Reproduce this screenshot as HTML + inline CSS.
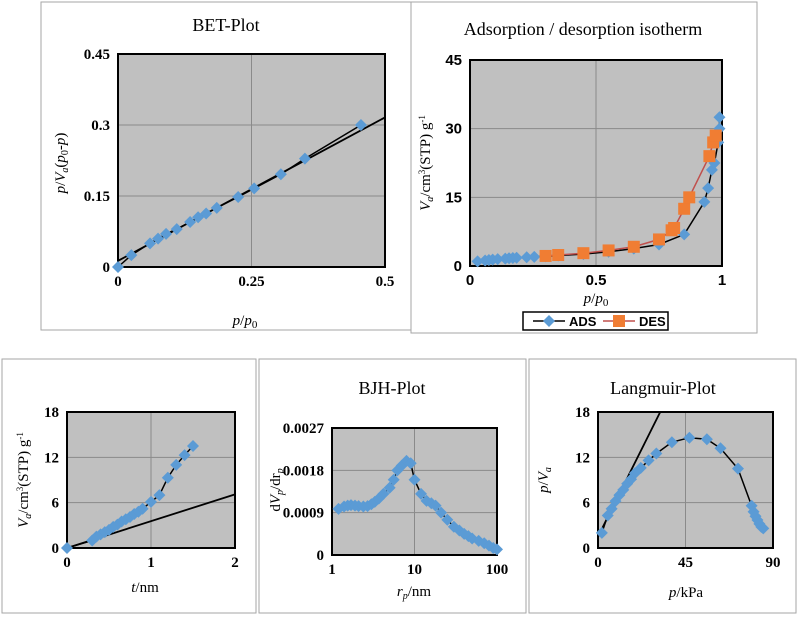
<!DOCTYPE html>
<html><head><meta charset="utf-8"><style>
body{margin:0;background:#fff;}
svg text{font-family:"Liberation Serif",serif;}
</style></head><body>
<svg id="s" width="799" height="615" xmlns="http://www.w3.org/2000/svg">
<rect x="41" y="2" width="370" height="328" fill="none" stroke="#a6a6a6"/>
<rect x="411" y="2" width="346" height="331" fill="none" stroke="#a6a6a6"/>
<rect x="2" y="359" width="254" height="254" fill="none" stroke="#a6a6a6"/>
<rect x="259" y="359" width="267" height="254" fill="none" stroke="#a6a6a6"/>
<rect x="529" y="359" width="267" height="254" fill="none" stroke="#a6a6a6"/>
</svg>
<script>
// BET
const betX=[0,0.025,0.06,0.075,0.09,0.11,0.135,0.15,0.165,0.185,0.225,0.255,0.305,0.35,0.455];
const betY=[0,0.025,0.05,0.06,0.07,0.08,0.095,0.105,0.113,0.125,0.148,0.166,0.196,0.229,0.3];
const betFitX=[0,0.5];const betFitY=[0.013,0.316];
const betXTicks=[0,0.25,0.5];const betYTicks=[0,0.15,0.3,0.45];
// Isotherm
const adsX=[0.03,0.06,0.075,0.09,0.11,0.14,0.155,0.17,0.185,0.225,0.255,0.3,0.35,0.45,0.55,0.65,0.75,0.85,0.93,0.945,0.96,0.97,0.985,0.99,0.99];
const adsY=[1.0,1.2,1.3,1.4,1.5,1.6,1.7,1.75,1.8,1.9,2.0,2.1,2.3,2.6,3.1,3.8,4.7,6.9,14,17,21,22.5,27,30,32.5];
const desX=[0.3,0.35,0.45,0.55,0.65,0.75,0.8,0.81,0.85,0.87,0.95,0.965,0.975];
const desY=[2.2,2.4,2.8,3.4,4.2,5.8,7.8,8.3,12.5,15,24,27,28.5];
const isoXTicks=[0,0.5,1];const isoYTicks=[0,15,30,45];
// t-plot
const tX=[0,0.3,0.35,0.4,0.45,0.5,0.55,0.6,0.65,0.7,0.75,0.8,0.85,0.9,1.0,1.1,1.2,1.3,1.4,1.5];
const tY=[0,1.0,1.5,1.8,2.1,2.4,2.8,3.1,3.5,3.8,4.1,4.5,4.8,5.2,6.1,7.0,9.3,11.0,12.3,13.5];
const tFitX=[0,2];const tFitY=[0,7.1];
const tXTicks=[0,1,2];const tYTicks=[0,6,12,18];
// BJH
const bjhX=[1.2,1.4,1.55,1.7,1.9,2.1,2.4,2.7,3,3.3,3.7,4.2,5,5.6,6.2,7,8,9,10,12,14,16,18,21,25,30,35,40,45,50,60,70,80,90,100];
const bjhY=[0.00098,0.00103,0.00105,0.00106,0.00105,0.00104,0.00103,0.00104,0.00108,0.00113,0.0012,0.0013,0.00143,0.0016,0.0018,0.0019,0.002,0.00195,0.0016,0.0013,0.00115,0.0011,0.00105,0.0009,0.00075,0.0006,0.00052,0.00045,0.0004,0.00035,0.0003,0.00025,0.0002,0.00015,0.00012];
const bjhXTicks=[1,10,100];const bjhYTicks=[0,0.0009,0.0018,0.0027];
// Langmuir
const lX=[2,5,7,9,11,13,15,17,19,22,26,30,38,47,56,63,72,79,80,81,82,83,84,85];
const lY=[2,4.3,5.2,6.2,7,7.7,8.5,9.1,9.9,10.6,11.6,12.5,14,14.6,14.4,13.2,10.5,5.6,4.8,4.2,3.7,3.2,2.8,2.6];
const lFitX=[0,32];const lFitY=[1.5,18];
const lXTicks=[0,45,90];const lYTicks=[0,6,12,18];

const S=document.getElementById('s');const NS='http://www.w3.org/2000/svg';
function mk(t,a,txt){const e=document.createElementNS(NS,t);for(const k in a)e.setAttribute(k,a[k]);if(txt!==undefined)e.textContent=txt;S.appendChild(e);return e;}
function chart(c){
 const sx=v=>{const f=c.log?(Math.log10(v)-Math.log10(c.xmin))/(Math.log10(c.xmax)-Math.log10(c.xmin)):(v-c.xmin)/(c.xmax-c.xmin);return c.x0+f*(c.x1-c.x0);};
 const sy=v=>c.y1-(v-c.ymin)/(c.ymax-c.ymin)*(c.y1-c.y0);
 let r=mk('rect',{x:c.x0,y:c.y0,width:c.x1-c.x0,height:c.y1-c.y0,fill:'#c0c0c0'});
 
 
 c.xt.forEach(v=>{const X=sx(v);let g=mk('line',{x1:X,x2:X,y1:c.y0,y2:c.y1,stroke:'#8a8a8a','stroke-width':1});
  
  
  let t=mk('text',{x:X,y:c.y1+19,'text-anchor':'middle','font-size':c.tfs||15,'font-weight':'bold',style:c.sans?'font-family:"Liberation Sans",sans-serif':''},String(v));
  
  });
 c.yt.forEach(v=>{const Y=sy(v);let g=mk('line',{x1:c.x0,x2:c.x1,y1:Y,y2:Y,stroke:'#8a8a8a','stroke-width':1});
  
  
  let t=mk('text',{x:c.x0-8,y:Y+5,'text-anchor':'end','font-size':c.tfs||15,'font-weight':'bold',style:c.sans?'font-family:"Liberation Sans",sans-serif':''},String(v));
  
  });
 let b=mk('rect',{x:c.x0,y:c.y0,width:c.x1-c.x0,height:c.y1-c.y0,fill:'none',stroke:'#000','stroke-width':2});
 
 
 (c.fits||[]).forEach(f=>{let l=mk('line',{x1:sx(f[0][0]),y1:sy(f[1][0]),x2:sx(f[0][1]),y2:sy(f[1][1]),stroke:'#000','stroke-width':1.8});
  
  });
 c.series.forEach(s=>{
  const d=s.x.map((v,i)=>(i?'L':'M')+sx(v).toFixed(1)+','+sy(s.y[i]).toFixed(1)).join('');
  let p=mk('path',{d:d,fill:'none',stroke:s.line,'stroke-width':1.5});
  
  
  s.x.forEach((v,i)=>{const X=sx(v),Y=sy(s.y[i]);let m;
   if(s.sq){m=mk('rect',{x:X-6,y:Y-6,width:12,height:12,fill:'#f07d33'});}
   else{m=mk('path',{d:`M${X},${Y-6}L${X+6},${Y}L${X},${Y+6}L${X-6},${Y}Z`,fill:'#5b9bd5'});}
   
   });
 });
 if(c.title){let t=mk('text',{x:c.tx,y:c.ty,'text-anchor':'middle','font-size':18},c.title);
  
  }
 let xl=mk('text',{x:c.xlx,y:c.xly,'text-anchor':'middle','font-size':15});xl.innerHTML=c.xl;
 
 
 let yl=mk('text',{x:0,y:0,'text-anchor':'middle','font-size':15,transform:`translate(${c.ylx},${c.yly}) rotate(-90)`});yl.innerHTML=c.yl;
 
 
}
chart({id:'bet',x0:118,x1:385,y0:54,y1:267,xmin:0,xmax:0.5,ymin:0,ymax:0.45,xt:betXTicks,yt:betYTicks,
 series:[{name:'data',x:betX,y:betY,line:'#000'}],fits:[[betFitX,betFitY]],
 title:'BET-Plot',tx:226,ty:31,xl:'<tspan font-style="italic">p</tspan>/<tspan font-style="italic">p</tspan><tspan font-size="11" dy="3">0</tspan>',xlx:245,xly:325,
 yl:'<tspan font-style="italic">p</tspan>/<tspan font-style="italic">V</tspan><tspan font-size="10" dy="3" font-style="italic">a</tspan><tspan dy="-3">(</tspan><tspan font-style="italic">p</tspan><tspan font-size="10" dy="3">0</tspan><tspan dy="-3">-</tspan><tspan font-style="italic">p</tspan>)',ylx:65,yly:163});
chart({id:'isotherm',x0:470,x1:722,y0:60,y1:266,xmin:0,xmax:1,ymin:0,ymax:45,xt:isoXTicks,yt:isoYTicks,sans:true,
 series:[{name:'ads',x:adsX,y:adsY,line:'#000'},{name:'des',x:desX,y:desY,line:'#c0504d',sq:true}],
 title:'Adsorption / desorption isotherm',tx:583,ty:35,xl:'<tspan font-style="italic">p</tspan>/<tspan font-style="italic">p</tspan><tspan font-size="11" dy="3">0</tspan>',xlx:596,xly:303,
 yl:'<tspan font-style="italic">V</tspan><tspan font-size="10" dy="3" font-style="italic">a</tspan><tspan dy="-3">/cm</tspan><tspan font-size="9" dy="-5">3</tspan><tspan dy="5">(STP) g</tspan><tspan font-size="9" dy="-5">-1</tspan>',ylx:430,yly:163});
chart({id:'tplot',x0:67,x1:235,y0:412,y1:548,xmin:0,xmax:2,ymin:0,ymax:18,xt:tXTicks,yt:tYTicks,
 series:[{name:'data',x:tX,y:tY,line:'#000'}],fits:[[tFitX,tFitY]],
 xl:'<tspan font-style="italic">t</tspan>/nm',xlx:145,xly:592,
 yl:'<tspan font-style="italic">V</tspan><tspan font-size="10" dy="3" font-style="italic">a</tspan><tspan dy="-3">/cm</tspan><tspan font-size="9" dy="-5">3</tspan><tspan dy="5">(STP) g</tspan><tspan font-size="9" dy="-5">-1</tspan>',ylx:28,yly:480});
chart({id:'bjh',x0:332,x1:497,y0:428,y1:555,xmin:1,xmax:100,log:true,ymin:0,ymax:0.0027,xt:bjhXTicks,yt:bjhYTicks,
 series:[{name:'data',x:bjhX,y:bjhY,line:'#000'}],
 title:'BJH-Plot',tx:392,ty:394,xl:'<tspan font-style="italic">r</tspan><tspan font-size="10" dy="3" font-style="italic">p</tspan><tspan dy="-3">/nm</tspan>',xlx:414,xly:596,
 yl:'d<tspan font-style="italic">V</tspan><tspan font-size="10" dy="3" font-style="italic">p</tspan><tspan dy="-3">/dr</tspan><tspan font-size="10" dy="3" font-style="italic">p</tspan>',ylx:280,yly:490});
chart({id:'langmuir',x0:598,x1:773,y0:412,y1:548,xmin:0,xmax:90,ymin:0,ymax:18,xt:lXTicks,yt:lYTicks,
 series:[{name:'data',x:lX,y:lY,line:'#000'}],fits:[[lFitX,lFitY]],
 title:'Langmuir-Plot',tx:663,ty:394,xl:'<tspan font-style="italic">p</tspan>/kPa',xlx:686,xly:597,
 yl:'<tspan font-style="italic">p</tspan>/<tspan font-style="italic">V</tspan><tspan font-size="10" dy="3" font-style="italic">a</tspan>',ylx:548,yly:480});
// legend
let lg=mk('rect',{x:523,y:312,width:145,height:18,fill:'#fff',stroke:'#000','stroke-width':1.5});


let l1=mk('line',{x1:533,x2:565,y1:321,y2:321,stroke:'#000','stroke-width':1.5});


let m1=mk('path',{d:'M549,315L555,321L549,327L543,321Z',fill:'#5b9bd5'});


let t1=mk('text',{x:569,y:326,'font-size':13,'font-weight':'bold',style:'font-family:"Liberation Sans",sans-serif'},'ADS');


let l2=mk('line',{x1:603,x2:635,y1:321,y2:321,stroke:'#c0504d','stroke-width':1.5});


let m2=mk('rect',{x:613,y:315,width:12,height:12,fill:'#f07d33'});


let t2=mk('text',{x:639,y:326,'font-size':13,'font-weight':'bold',style:'font-family:"Liberation Sans",sans-serif'},'DES');


</script>
</body></html>
